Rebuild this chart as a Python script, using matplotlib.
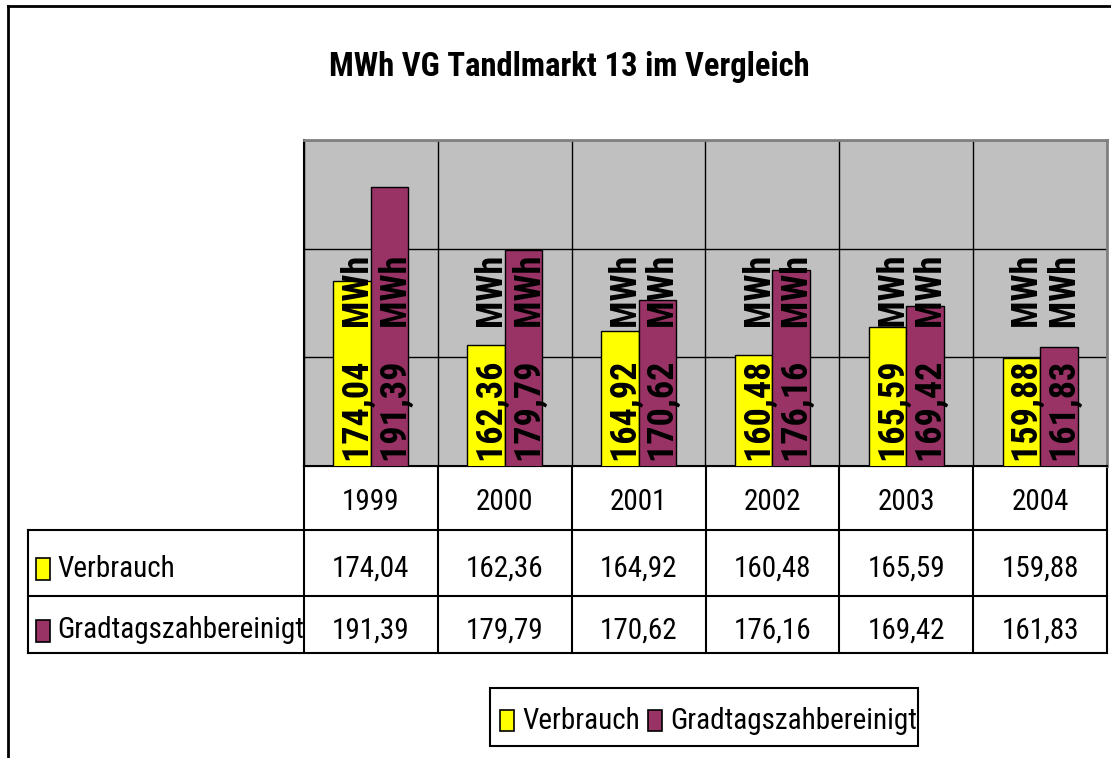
import matplotlib
matplotlib.use('Agg')
import matplotlib.pyplot as plt
from matplotlib.patches import Rectangle
import numpy as np

# ---------------- data ----------------
years = ['1999', '2000', '2001', '2002', '2003', '2004']
verbrauch = [174.04, 162.36, 164.92, 160.48, 165.59, 159.88]
gradtag = [191.39, 179.79, 170.62, 176.16, 169.42, 161.83]
series_names = ['Verbrauch', 'Gradtagszahbereinigt']
title = 'MWh VG Tandlmarkt 13 im Vergleich'
unit = 'MWh'
y_min, y_max, y_step = 140, 200, 20

# ---------------- style ----------------
W, H = 1111, 758
FONT = ['Roboto Condensed', 'Liberation Sans', 'DejaVu Sans']
plt.rcParams['font.family'] = FONT
YELLOW = '#FFFF00'
PURPLE = '#993366'
GRAY = '#C0C0C0'
BORDER_GRAY = '#808080'

fig = plt.figure(figsize=(W / 100, H / 100), dpi=100)

# plot area in pixels
PL, PR, PT, PB = 304, 1107, 140, 466
TAB_LEFT = 28
ROW_Y = [466, 530, 596, 653]


def fx(px):
    return px / W


def fy(py):
    return 1 - py / H


# overlay axes in pixel coordinates for frame / table / legend
ov = fig.add_axes([0, 0, 1, 1])
ov.set_xlim(0, W)
ov.set_ylim(H, 0)
ov.axis('off')

# outer frame
ov.plot([8, W], [6, 6], color='black', lw=2)
ov.plot([8, 8], [6, H], color='black', lw=2)

# title
ov.text(569, 67, title, ha='center', va='center', fontsize=23.5,
        fontweight='bold')

# ---------------- bars ----------------
ax = fig.add_axes([fx(PL), fy(PB), (PR - PL) / W, (PB - PT) / H])
ax.set_facecolor(GRAY)
n = len(years)
x = np.arange(n)
bw = 0.28
ax.bar(x - bw / 2, verbrauch, bw, color=YELLOW, edgecolor='black',
       linewidth=1, zorder=3)
ax.bar(x + bw / 2, gradtag, bw, color=PURPLE, edgecolor='black',
       linewidth=1, zorder=3)
ax.set_xlim(-0.5, n - 0.5)
ax.set_ylim(y_min, y_max)
ax.set_yticks(np.arange(y_min, y_max + 1, y_step))
ax.set_xticks(np.arange(n + 1) - 0.5)
ax.grid(True, color='black', linewidth=1)
ax.set_axisbelow(True)
ax.tick_params(length=0, labelbottom=False, labelleft=False)
for s in ['top', 'right']:
    ax.spines[s].set_color(BORDER_GRAY)
    ax.spines[s].set_linewidth(2)
for s in ['left', 'bottom']:
    ax.spines[s].set_color('black')
    ax.spines[s].set_linewidth(1.5)


def fmt(v):
    return f'{v:.2f}'.replace('.', ',')


for i in range(n):
    for off, vals in ((-bw / 2, verbrauch), (bw / 2, gradtag)):
        ax.annotate(fmt(vals[i]) + '    ' + unit, xy=(x[i] + off, y_min),
                    xytext=(5, 3), textcoords='offset points',
                    rotation=90, ha='center', va='bottom', fontsize=26,
                    fontweight='bold', zorder=5)

# ---------------- data table ----------------
cat_edges = [PL + (PR - PL) * k / n for k in range(n + 1)]
lw_t = 1.5
ov.plot([PL, PR], [ROW_Y[0], ROW_Y[0]], color='black', lw=lw_t)
for yy in ROW_Y[1:]:
    ov.plot([TAB_LEFT, PR], [yy, yy], color='black', lw=lw_t)
for k, xe in enumerate(cat_edges):
    ov.plot([xe, xe], [ROW_Y[0], ROW_Y[-1]], color='black', lw=lw_t)
ov.plot([TAB_LEFT, TAB_LEFT], [ROW_Y[1], ROW_Y[-1]], color='black', lw=lw_t)

TFS = 21
for i in range(n):
    cx = (cat_edges[i] + cat_edges[i + 1]) / 2
    ov.text(cx, (ROW_Y[0] + ROW_Y[1]) / 2 + 4, years[i], ha='center',
            va='center', fontsize=TFS)
    ov.text(cx, (ROW_Y[1] + ROW_Y[2]) / 2 + 6, fmt(verbrauch[i]),
            ha='center', va='center', fontsize=TFS)
    ov.text(cx, (ROW_Y[2] + ROW_Y[3]) / 2 + 6, fmt(gradtag[i]),
            ha='center', va='center', fontsize=TFS)

for r, (name, col) in enumerate(zip(series_names, [YELLOW, PURPLE])):
    cy = (ROW_Y[r + 1] + ROW_Y[r + 2]) / 2 + 6
    ov.add_patch(Rectangle((36, cy - 11), 14, 22, facecolor=col,
                           edgecolor='black', lw=1.2))
    ov.text(57, cy, name, ha='left', va='center', fontsize=TFS)

# ---------------- legend ----------------
ov.add_patch(Rectangle((490, 688), 428, 58, facecolor='white',
                       edgecolor='black', lw=1.5))
leg_y = 720
ov.add_patch(Rectangle((500, leg_y - 10), 14, 21, facecolor=YELLOW,
                       edgecolor='black', lw=1.2))
ov.text(522, leg_y + 1, series_names[0], ha='left', va='center',
        fontsize=TFS)
ov.add_patch(Rectangle((648, leg_y - 10), 14, 21, facecolor=PURPLE,
                       edgecolor='black', lw=1.2))
ov.text(670, leg_y + 1, series_names[1], ha='left', va='center',
        fontsize=TFS)

fig.savefig('out.png', dpi=100)
